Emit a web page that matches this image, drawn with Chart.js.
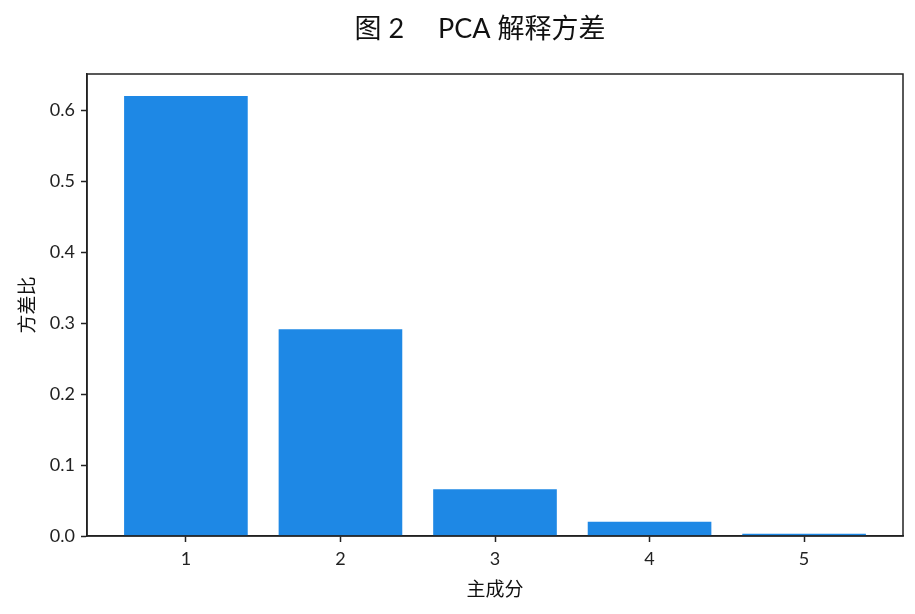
<!DOCTYPE html>
<html>
<head>
<meta charset="utf-8">
<script src="https://cdn.jsdelivr.net/npm/chart.js@4"></script>
<style>
  html, body { margin: 0; padding: 0; background: #fff; }
  #wrap { width: 915px; height: 614px; }
</style>
</head>
<body>
<div id="wrap"><canvas id="pca" width="915" height="614"></canvas></div>
<script>
const components = [1, 2, 3, 4, 5];
const componentLabels = ['1', '2', '3', '4', '5'];
const varianceRatio = [0.620, 0.2915, 0.066, 0.020, 0.003];
const yTicks = [0.0, 0.1, 0.2, 0.3, 0.4, 0.5, 0.6];

const FONT = "Lato, 'Noto Sans CJK SC', sans-serif";
const INK = '#222222';

// box round the plot area, like the matplotlib frame
const frame = {
  id: 'frame',
  afterLayout(chart) {
    // nudge the title box so its centre sits where the reference has it
    const t = chart.titleBlock;
    if (t) {
      t.left = chart.chartArea.left - 30;
      t.right = chart.chartArea.right;
      t.width = t.right - t.left;
    }
  },
  afterDraw(chart) {
    const { ctx, chartArea: a } = chart;
    ctx.save();
    ctx.strokeStyle = INK;
    ctx.lineWidth = 1.5;
    ctx.strokeRect(a.left, a.top, a.right - a.left, a.bottom - a.top);
    ctx.restore();
  }
};

new Chart(document.getElementById('pca'), {
  type: 'bar',
  data: {
    datasets: [{
      data: components.map((c, i) => ({ x: c, y: varianceRatio[i] })),
      backgroundColor: '#1e88e5',
      barPercentage: 0.8,
      categoryPercentage: 1.0
    }]
  },
  options: {
    responsive: false,
    animation: false,
    layout: { padding: { left: 0, right: 12, top: 0, bottom: 0 } },
    plugins: {
      legend: { display: false },
      tooltip: { enabled: false },
      title: {
        display: true,
        text: '图 2\u3000 PCA 解释方差',
        color: '#111',
        font: { family: FONT, size: 27, weight: 'normal' },
        padding: { top: 13, bottom: 28.6 }
      }
    },
    scales: {
      x: {
        type: 'linear',
        min: 0.36,
        max: 5.64,
        offset: false,
        afterBuildTicks: (s) => { s.ticks = components.map(v => ({ value: v })); },
        afterFit: (s) => { s.height = 78; },
        ticks: {
          color: INK,
          font: { family: FONT, size: 18 },
          padding: 6,
          callback: (v) => componentLabels[components.indexOf(v)]
        },
        grid: { offset: false, drawOnChartArea: false, drawTicks: true, tickLength: 6, tickWidth: 1.5, tickColor: INK },
        border: { display: true, color: INK, width: 1.5 },
        title: {
          display: true,
          text: '主成分',
          color: '#111',
          font: { family: FONT, size: 19 },
          padding: { top: 0, bottom: 13 }
        }
      },
      y: {
        min: 0,
        max: 0.651,
        afterBuildTicks: (s) => { s.ticks = yTicks.map(v => ({ value: v })); },
        afterFit: (s) => { s.width = 87; },
        ticks: {
          color: INK,
          font: { family: FONT, size: 18 },
          padding: 6,
          callback: (v) => v.toFixed(1)
        },
        grid: { drawOnChartArea: false, drawTicks: true, tickLength: 6, tickWidth: 1.5, tickColor: INK },
        border: { display: true, color: INK, width: 1.5 },
        title: {
          display: true,
          text: '方差比',
          color: '#111',
          font: { family: FONT, size: 19 },
          padding: { top: 16, bottom: 0 }
        }
      }
    }
  },
  plugins: [frame]
});
</script>
</body>
</html>
